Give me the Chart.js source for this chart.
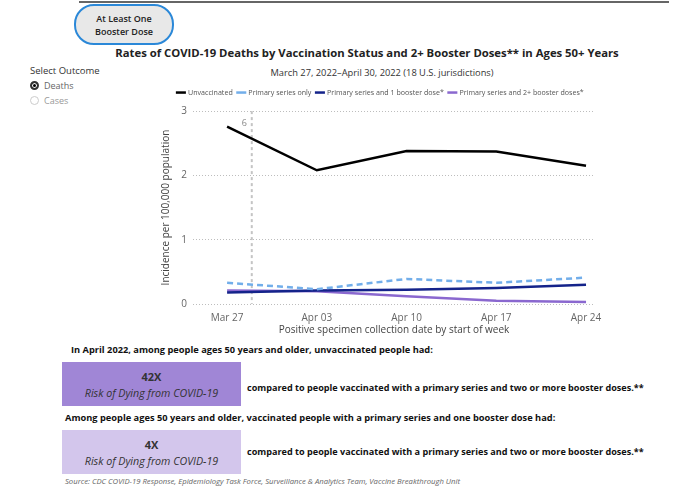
<!DOCTYPE html>
<html>
<head>
<meta charset="utf-8">
<script src="https://cdn.jsdelivr.net/npm/chart.js@4.4.1/dist/chart.umd.min.js"></script>
<style>
  body { margin:0; width:680px; height:489px; background:#fff; font-family:"Open Sans", sans-serif; position:relative; overflow:hidden; color:#222; }
  .abs { position:absolute; white-space:nowrap; }
  #topline { left:79px; top:1px; width:590px; height:2px; background:#666; }
  #btn { left:74px; top:4px; width:96px; height:37px; border:2px solid #2b88d8; border-radius:20px; background:#e8e8e8;
         font-size:9px; font-weight:600; text-align:center; line-height:13px; display:flex; align-items:center; justify-content:center; }
  #title { left:0; width:734px; top:45px; text-align:center; font-size:11.3px; font-weight:700; color:#222; }
  #subtitle { left:0; width:764px; top:66px; text-align:center; font-size:9.3px; color:#333; }
  #outcome { left:30px; top:64px; font-size:9.5px; color:#333; }
  .radio { font-size:9px; display:flex; align-items:center; }
  .dot { width:9px; height:9px; border-radius:50%; box-sizing:border-box; margin-right:5px; }
  #chartWrap { left:140px; top:84px; width:490px; height:252px; }
  .lead { font-size:9.28px; font-weight:700; color:#111; }
  .box { left:62px; width:179px; height:44px; color:#333; text-align:center; }
  .box b { display:block; font-size:11px; margin-top:7px; line-height:15px; }
  .box i { display:block; font-size:10.7px; margin-top:2px; line-height:15px; }
  .cmp { font-size:9.1px; font-weight:700; color:#111; }
  #source { left:65px; top:476px; font-size:7.7px; font-style:italic; color:#666; }
</style>
</head>
<body>
<div class="abs" id="topline"></div>
<div class="abs" id="btn">At Least One<br>Booster Dose</div>
<div class="abs" id="title">Rates of COVID-19 Deaths by Vaccination Status and 2+ Booster Doses** in Ages 50+ Years</div>
<div class="abs" id="subtitle">March 27, 2022–April 30, 2022 (18 U.S. jurisdictions)</div>
<div class="abs" id="outcome">
  <div>Select Outcome</div>
  <div class="radio" style="margin-top:2px;color:#666"><span class="dot" style="border:2.5px solid #333;background:#000;box-shadow:inset 0 0 0 1px #fff"></span>Deaths</div>
  <div class="radio" style="margin-top:2px;color:#999"><span class="dot" style="border:1px solid #ccc"></span>Cases</div>
</div>
<div class="abs" id="chartWrap"><canvas id="myChart"></canvas></div>

<div class="abs lead" style="left:71px;top:343px">In April 2022, among people ages 50 years and older, unvaccinated people had:</div>
<div class="abs box" style="top:362px;background:#a086d6"><b>42X</b><i>Risk of Dying from COVID-19</i></div>
<div class="abs cmp" style="left:247px;top:381px">compared to people vaccinated with a primary series and two or more booster doses.**</div>
<div class="abs lead" style="left:65px;top:411px">Among people ages 50 years and older, vaccinated people with a primary series and one booster dose had:</div>
<div class="abs box" style="top:430px;background:#d3c6ec"><b>4X</b><i>Risk of Dying from COVID-19</i></div>
<div class="abs cmp" style="left:247px;top:445px">compared to people vaccinated with a primary series and two or more booster doses.**</div>
<div class="abs" id="source">Source: CDC COVID-19 Response, Epidemiology Task Force, Surveillance &amp; Analytics Team, Vaccine Breakthrough Unit</div>

<script>
// weekly death rates per 100,000, ages 50+
const weeks = ['Mar 27', 'Apr 03', 'Apr 10', 'Apr 17', 'Apr 24'];
const unvaccinated = [2.76, 2.08, 2.38, 2.37, 2.15];
const primaryOnly = [0.33, 0.23, 0.39, 0.33, 0.41];
const oneBooster = [0.18, 0.21, 0.22, 0.25, 0.30];
const twoBoosters = [0.21, 0.20, 0.12, 0.05, 0.03];
const yTicks = [0, 1, 2, 3];
const refLine = { at: 0.275, label: '6' };

const pts = arr => arr.map((v, i) => ({ x: i, y: v }));

// dashed marker line between first two weeks
const refLinePlugin = {
	id: 'refLine',
	beforeDatasetsDraw(chart) {
		const { ctx, chartArea, scales } = chart;
		const x = scales.x.getPixelForValue(refLine.at);
		ctx.save();
		ctx.strokeStyle = '#c4c4c4';
		ctx.lineWidth = 2;
		ctx.setLineDash([3, 3]);
		ctx.beginPath();
		ctx.moveTo(x, chartArea.top);
		ctx.lineTo(x, chartArea.bottom);
		ctx.stroke();
		ctx.fillStyle = '#888';
		ctx.font = '9px "Open Sans"';
		ctx.textAlign = 'right';
		ctx.fillText(refLine.label, x - 5, chartArea.top + 12);
		ctx.restore();
	}
};

// a bit more room under the legend, and nudge it right
const legendTweak = {
	id: 'legendTweak',
	beforeInit(chart) {
		const fit = chart.legend.fit;
		chart.legend.fit = function() {
			fit.call(this);
			this.height += 5;
		};
	},
	afterLayout(chart) {
		chart.legend.left += 13;
		chart.legend.right += 13;
	}
};

new Chart(document.getElementById('myChart'), {
	type: 'line',
	data: {
		datasets: [
			{ label: 'Unvaccinated', data: pts(unvaccinated), borderColor: '#000', borderWidth: 2.5 },
			{ label: 'Primary series only', data: pts(primaryOnly), borderColor: '#72aeea', borderWidth: 2.5, borderDash: [6, 4] },
			{ label: 'Primary series and 1 booster dose*', data: pts(oneBooster), borderColor: '#14238a', borderWidth: 2.5 },
			{ label: 'Primary series and 2+ booster doses*', data: pts(twoBoosters), borderColor: '#8a68cf', borderWidth: 2.5 }
		]
	},
	options: {
		responsive: true,
		maintainAspectRatio: false,
		animation: false,
		elements: { point: { radius: 0 }, line: { tension: 0, fill: false } },
		layout: { padding: { right: 35 } },
		plugins: {
			legend: {
				labels: {
					usePointStyle: true, pointStyle: 'line', boxWidth: 8, boxHeight: 8, padding: 5,
					color: '#555', font: { family: 'Open Sans', size: 7.1 }
				}
			},
			tooltip: { enabled: false }
		},
		scales: {
			x: {
				type: 'linear', min: -0.38, max: 4.1,
				afterBuildTicks: s => { s.ticks = weeks.map((w, i) => ({ value: i })); },
				ticks: { callback: v => weeks[v], color: '#666', font: { family: 'Open Sans', size: 10 }, padding: 0, maxRotation: 0 },
				grid: { display: false },
				border: { display: false },
				title: { display: true, text: 'Positive specimen collection date by start of week', color: '#444', font: { family: 'Open Sans', size: 10 }, padding: 0 }
			},
			y: {
				min: 0, max: 3,
				afterBuildTicks: s => { s.ticks = yTicks.map(v => ({ value: v })); },
				afterFit: s => { s.width = 53; },
				ticks: { color: '#666', font: { family: 'Open Sans', size: 10 }, padding: 6 },
				grid: { color: '#bdbdbd', lineWidth: 1, drawTicks: false },
				border: { display: false, dash: [1, 2] },
				title: { display: true, text: 'Incidence per 100,000 population', color: '#444', font: { family: 'Open Sans', size: 10 }, padding: { top: 20, bottom: 0 } }
			}
		}
	},
	plugins: [refLinePlugin, legendTweak]
});
</script>
</body>
</html>
